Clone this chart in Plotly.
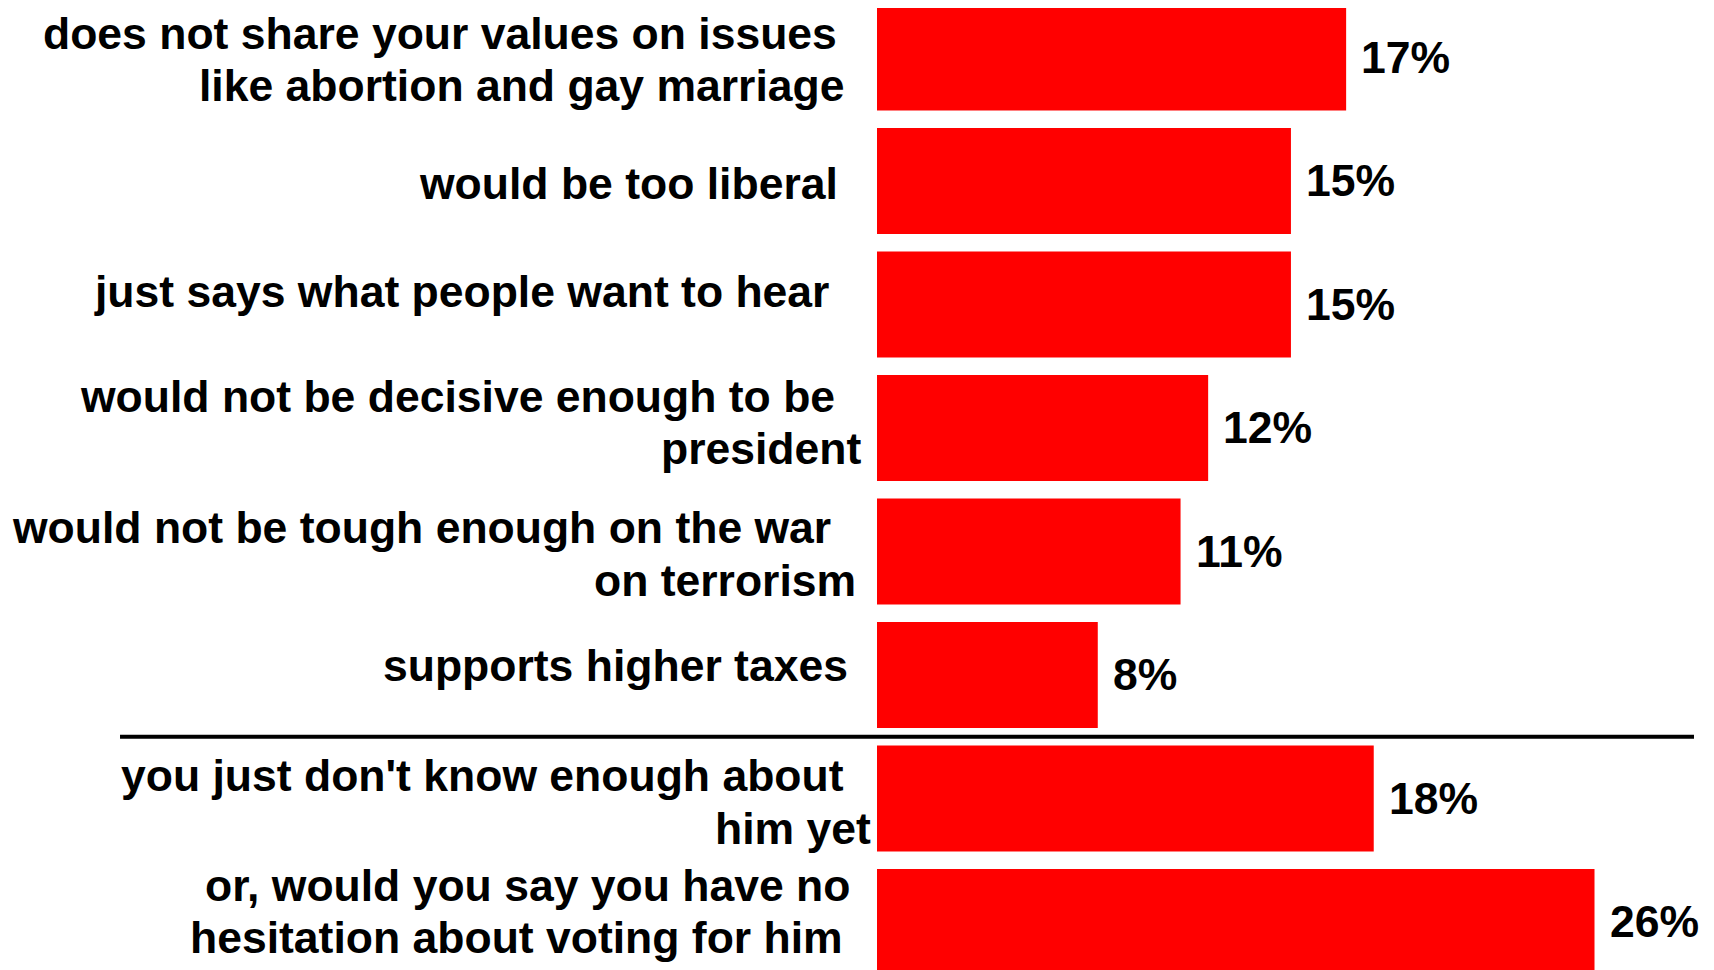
import plotly.graph_objects as go

# ---- data ----
categories = [
    "does not share your values on issues like abortion and gay marriage",
    "would be too liberal",
    "just says what people want to hear",
    "would not be decisive enough to be president",
    "would not be tough enough on the war on terrorism",
    "supports higher taxes",
    "you just don't know enough about him yet",
    "or, would you say you have no hesitation about voting for him",
]
label_lines = [
    ["does not share your values on issues", "like abortion and gay marriage"],
    ["would be too liberal"],
    ["just says what people want to hear"],
    ["would not be decisive enough to be", "president"],
    ["would not be tough enough on the war", "on terrorism"],
    ["supports higher taxes"],
    ["you just don't know enough about", "him yet"],
    ["or, would you say you have no", "hesitation about voting for him"],
]
values = [17, 15, 15, 12, 11, 8, 18, 26]
value_labels = ["17%", "15%", "15%", "12%", "11%", "8%", "18%", "26%"]

# ---- layout (label offsets in px: right-edge shift, vertical shift) ----
line_offsets = [
    [(-38, -24), (-31, 28)],
    [(-37, 3)],
    [(-46, -13)],
    [(-40, -31), (-14, 21)],
    [(-44, -24), (-19, 29)],
    [(-27, -9)],
    [(-31, -23), (-4, 30)],
    [(-25, -36), (-32, 16)],
]

FONT = "Liberation Sans, Arial, sans-serif"
FSIZE = 44.5
ypos = list(range(len(categories)))

fig = go.Figure(go.Bar(
    x=values, y=ypos, orientation="h",
    marker=dict(color="#ff0000", line=dict(width=0)),
    width=0.858,
    hoverinfo="skip",
))

ann = []
for i, lines in enumerate(label_lines):
    for line, (dx, dy) in zip(lines, line_offsets[i]):
        ann.append(dict(
            x=0, xref="paper", y=ypos[i], yref="y",
            text=line, showarrow=False, xanchor="right", yanchor="middle",
            xshift=dx, yshift=-dy, align="right",
            font=dict(family=FONT, size=FSIZE, color="black", weight="bold"),
        ))
for i, (v, t) in enumerate(zip(values, value_labels)):
    ann.append(dict(
        x=v, xref="x", y=ypos[i], yref="y",
        text=t, showarrow=False, xanchor="left", yanchor="middle",
        xshift=13,
        font=dict(family=FONT, size=FSIZE, color="black", weight="bold"),
    ))

fig.update_layout(
    width=1706, height=962,
    margin=dict(l=869, r=0, t=0, b=0),
    paper_bgcolor="white", plot_bgcolor="white",
    showlegend=False,
    xaxis=dict(range=[0, 30.33], visible=False, fixedrange=True),
    yaxis=dict(range=[7.3895, -0.4], visible=False, fixedrange=True),
    annotations=ann,
    shapes=[dict(
        type="line", xref="paper", yref="y",
        x0=-0.9044, x1=0.9761, y0=5.5, y1=5.5,
        line=dict(color="black", width=4),
    )],
)

fig.write_html("out.html")
